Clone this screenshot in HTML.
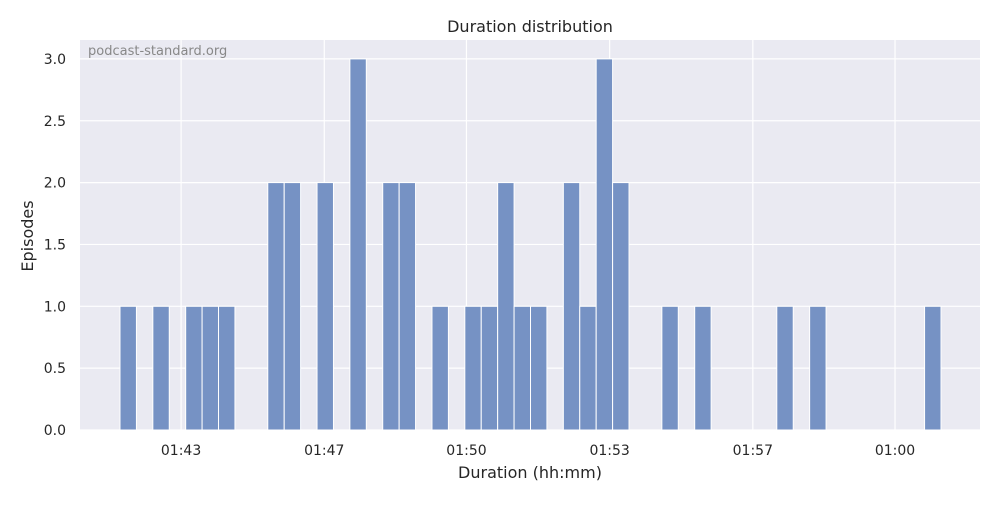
<!DOCTYPE html>
<html><head><meta charset="utf-8"><style>
body{margin:0;background:#fff;font-family:"Liberation Sans","DejaVu Sans",sans-serif}
</style></head><body>
<svg width="1000" height="500" xmlns="http://www.w3.org/2000/svg" font-family="DejaVu Sans, Liberation Sans, sans-serif">
<rect x="80" y="40" width="900" height="390" fill="#eaeaf2"/>
<g id="grid"></g><g id="bars"></g><g id="ticks"></g>
<text x="530" y="32" text-anchor="middle" font-size="16" fill="#262626">Duration distribution</text>
<text x="88" y="55" font-size="13" fill="#888">podcast-standard.org</text>
<text x="530" y="478" text-anchor="middle" font-size="16" fill="#262626">Duration (hh:mm)</text>
<text transform="translate(33,236) rotate(-90)" text-anchor="middle" font-size="16" fill="#262626">Episodes</text>
</svg>
<script>
const binIndex=[0,2,4,5,6,9,10,12,14,16,17,19,21,22,23,24,25,27,28,29,30,33,35,40,42,49];
const counts=[1,1,1,1,1,2,2,2,3,2,2,1,1,1,2,1,1,2,1,3,2,1,1,1,1,1];
const xTickLabels=["01:43","01:47","01:50","01:53","01:57","01:00"];
const xTickBins=[3.72,12.44,21.1,29.82,38.54,47.2];
const yTicks=[0,0.5,1,1.5,2,2.5,3];
const NS="http://www.w3.org/2000/svg";
const X=b=>120+b*16.42, Y=v=>430-v*123.7;
function mk(t,a,p){const e=document.createElementNS(NS,t);for(const k in a)e.setAttribute(k,a[k]);document.getElementById(p).appendChild(e);return e;}
yTicks.forEach(v=>{
 const l=mk('line',{x1:80,x2:980,y1:Y(v),y2:Y(v),stroke:'#fff','stroke-width':1.2},'grid');
 
 
 const t=mk('text',{x:66,y:Y(v)+5,'text-anchor':'end','font-size':14,fill:'#262626'},'ticks');
 
 
 t.textContent=v.toFixed(1);
});
xTickBins.forEach((b,i)=>{
 const l=mk('line',{x1:X(b),x2:X(b),y1:40,y2:430,stroke:'#fff','stroke-width':1.2},'grid');
 
 
 const t=mk('text',{x:X(b),y:455,'text-anchor':'middle','font-size':14,fill:'#262626'},'ticks');
 
 
 t.textContent=xTickLabels[i];
});
binIndex.forEach((b,i)=>{
 const r=mk('rect',{x:X(b),y:Y(counts[i]),width:16.42,height:430-Y(counts[i]),fill:'#7692c4',stroke:'#fff','stroke-width':1},'bars');
 
 
});
</script>
</body></html>
